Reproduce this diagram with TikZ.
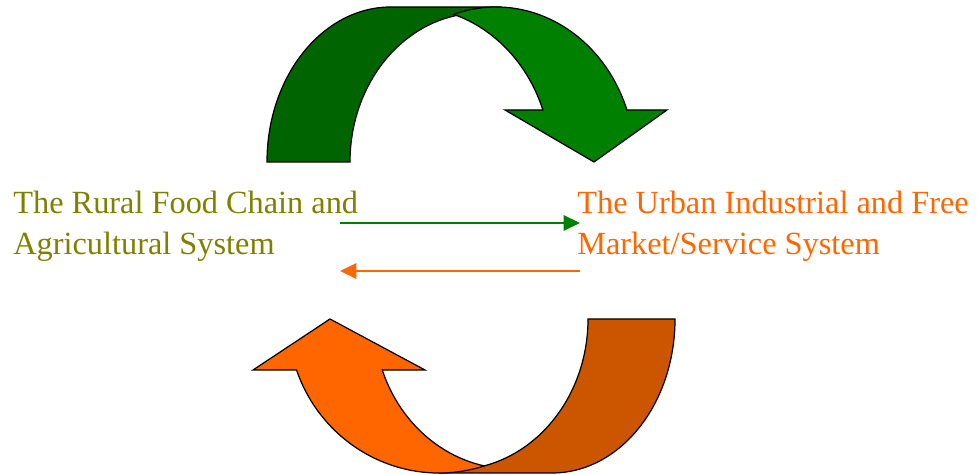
\documentclass[tikz,border=0pt]{standalone}
\usepackage{fontspec}
\setmainfont{Liberation Serif}
\usepackage{xcolor}
\usepackage{tikz}
\usetikzlibrary{arrows.meta}
\usetikzlibrary{calc}
\definecolor{greendark}{HTML}{006400}
\definecolor{greenlight}{HTML}{008000}
\definecolor{orangelight}{HTML}{FF6600}
\definecolor{orangedark}{HTML}{CC5500}
\definecolor{olivetext}{HTML}{808000}
\tikzset{
    band/.style = {draw=black, line width=0.7pt, line join=miter},
    green_back/.style = {band, fill=greendark},
    green_front/.style = {band, fill=greenlight},
    orange_back/.style = {band, fill=orangedark},
    orange_front/.style = {band, fill=orangelight},
    sys_text/.style = {align=left, inner sep=0pt, anchor=base west, font=\fontsize{18.4}{23.8}\selectfont},
    flow/.style = {line width=1.2pt, -{Triangle[length=9.3pt, width=8.7pt]}}
}

\begin{document}
\begin{tikzpicture}[x=0.02cm, y=0.02cm]
    \useasboundingbox (0,0) rectangle (980,475);
    \coordinate (O1) at (391,313);
    \coordinate (D1) at (480,313);
    \coordinate (L1) at (496,313);
    \coordinate (F1) at (411,313);
    \coordinate (O2) at (552,156);
    \coordinate (D2) at (453,156);
    \coordinate (L2) at (439,156);
    \coordinate (F2) at (512,156);

    \draw [green_back] ($(O1)+(180:124 and 155)$)
        arc [start angle=180, end angle=90, x radius=124, y radius=155]
        -- (496,468)
        -- ($(D1)+(101:130 and 149)$)
        arc [start angle=101, end angle=180, x radius=130, y radius=149]
        -- cycle;
    \draw [green_front] ($(L1)+(107.7:139 and 155)$)
        arc [start angle=107.7, end angle=19.6, x radius=139, y radius=155]
        -- (667,365) -- (594,313) -- (505,365)
        -- ($(F1)+(19.6:140 and 155)$)
        arc [start angle=19.6, end angle=72.2, x radius=140, y radius=155]
        -- cycle;

    \draw [orange_back] ($(O2)+(0:123 and 154)$)
        arc [start angle=0, end angle=-90, x radius=123, y radius=154]
        -- (439,2)
        -- ($(D2)+(-76.7:135 and 151)$)
        arc [start angle=-76.7, end angle=0, x radius=135, y radius=151]
        -- cycle;
    \draw [orange_front] ($(L2)+(-72.7:151 and 154)$)
        arc [start angle=-72.7, end angle=-160.7, x radius=151, y radius=154]
        -- (253,105) -- (330,156) -- (425,105)
        -- ($(F2)+(-160.1:138 and 150)$)
        arc [start angle=-160.1, end angle=-101.7, x radius=138, y radius=150]
        -- cycle;

    \node [sys_text, text=olivetext] (rural) at (13,220) {The Rural Food Chain and\\Agricultural System};
    \node [sys_text, text=orangelight] (urban) at (577,220) {The Urban Industrial and Free\\Market/Service System};

    \coordinate (rural_out) at (340,252);
    \coordinate (urban_in) at (580,252);
    \coordinate (urban_out) at (580,204);
    \coordinate (rural_in) at (340,204);
    \draw [flow, greenlight] (rural_out) -- (urban_in);
    \draw [flow, orangelight] (urban_out) -- (rural_in);
\end{tikzpicture}
\end{document}
